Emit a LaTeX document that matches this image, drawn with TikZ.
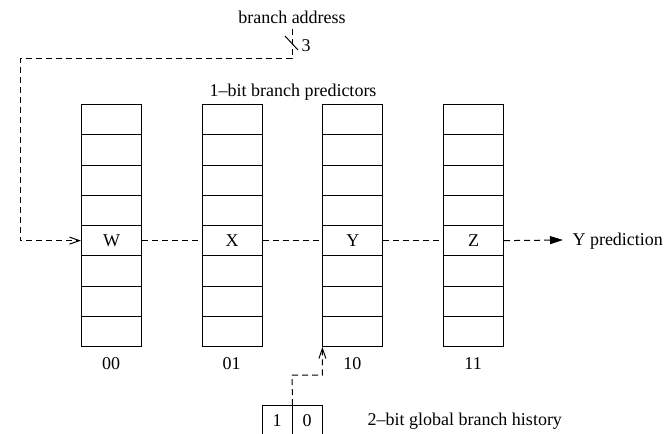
\documentclass[tikz,border=0pt]{standalone}
\usepackage{fontspec}
\setmainfont{Liberation Serif}
\usetikzlibrary{arrows.meta}
\begin{document}
\begin{tikzpicture}[x=0.5pt,y=-0.5pt,line width=0.5pt,
  every node/.style={font=\fontsize{9}{11}\selectfont, inner sep=0pt},
  cell/.style={draw, line width=0.5pt, minimum width=30pt, minimum height=15.125pt,
    inner sep=0pt, anchor=north west},
  wire/.style={dash pattern=on 3pt off 2pt, line width=0.5pt},
  openhead/.style={-{Straight Barb[length=5pt,width=3.5pt]}},
  solidhead/.style={-{Triangle[length=6.5pt,width=4pt]}}]
  \useasboundingbox (0,0) rectangle (668,433);
  \clip (0,0) rectangle (668,433);

  % four tables of 1-bit predictors, eight entries each
  \foreach \i/\lab/\bits in {0/W/00,1/X/01,2/Y/10,3/Z/11} {
    \foreach \j in {0,...,7} {
      \node[cell] (c\i-\j) at ({81+120.7*\i}, {104+30.25*\j}) {\ifnum\j=4 \lab\fi};
    }
    \node (bits\i) at ({111+120.7*\i}, 364) {\bits};
  }

  \node (predlbl) at (293, 92) {1--bit branch predictors};

  % branch address bus (3 bits) selecting the entry
  \node (addrlbl) at (292, 17) {branch address};
  \coordinate (addr) at (292, 29);
  \draw[wire, openhead] (addr) -- (292, 59) -- (20, 59) |- (c0-4.west);
  \draw (285, 36) -- (298, 50);
  \node (width) at (306, 46) {3};

  % selected entries passed along to the output
  \draw[wire] (c0-4.east) -- (c1-4.west);
  \draw[wire] (c1-4.east) -- (c2-4.west);
  \draw[wire] (c2-4.east) -- (c3-4.west);
  \coordinate (out) at (563, 240);
  \draw[wire, solidhead] (c3-4.east) -- (out);
  \node[anchor=west] (outlbl) at (572, 241) {Y prediction};

  % 2-bit global history register
  \node[draw, minimum width=30pt, minimum height=20pt, anchor=north west] (hist) at (262, 405) {};
  \draw (hist.north) -- (hist.south);
  \node (h1) at (277, 421) {1};
  \node (h0) at (307, 421) {0};
  \node[anchor=west] (histlbl) at (367, 421) {2--bit global branch history};
  \draw[wire, openhead] (hist.north) -- (292, 375) -| (c2-7.south west);
\end{tikzpicture}
\end{document}
